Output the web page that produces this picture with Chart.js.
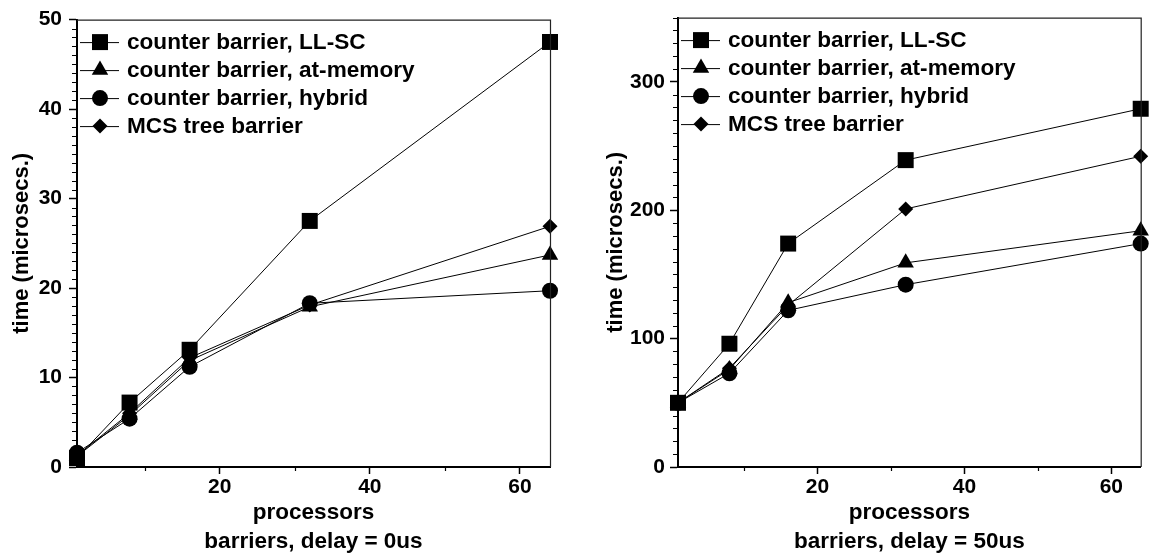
<!DOCTYPE html>
<html><head><meta charset="utf-8">
<script src="https://cdn.jsdelivr.net/npm/chart.js@4.4.1/dist/chart.umd.min.js"></script>
<style>
html,body{margin:0;padding:0;background:#fff;}
#wrap{position:relative;width:1152px;height:558px;overflow:hidden;}
.c{position:absolute;top:0;width:576px;height:558px;}
canvas{display:block;}
</style></head><body>
<div id="wrap">
<div class="c" style="left:0"><canvas id="c0" width="576" height="558"></canvas></div>
<div class="c" style="left:576px"><canvas id="c1" width="576" height="558"></canvas></div>
</div>
<script>
// ---- data ----
const processors = [1, 8, 16, 32, 64];
const seriesNames = ['counter barrier, LL-SC', 'counter barrier, at-memory', 'counter barrier, hybrid', 'MCS tree barrier'];

const delay0_llsc   = [1.0, 7.2, 13.1, 27.5, 47.5];
const delay0_atmem  = [1.2, 5.8, 11.9, 17.9, 23.7];
const delay0_hybrid = [1.6, 5.4, 11.2, 18.3, 19.7];
const delay0_mcs    = [1.3, 6.0, 12.2, 18.1, 26.9];

const delay50_llsc   = [50, 96, 174, 239, 279];
const delay50_atmem  = [50, 76, 128, 159, 184];
const delay50_hybrid = [50, 73, 122, 142, 174];
const delay50_mcs    = [50, 77, 126, 201, 242];

const xMajorTicks = [20, 40, 60];
const xMinorTicks = [10, 30, 50];
const yMajorTicks0 = [0, 10, 20, 30, 40, 50];
const yMajorTicks50 = [0, 100, 200, 300];
const xTitle0 = ['processors', 'barriers, delay = 0us'];
const xTitle50 = ['processors', 'barriers, delay = 50us'];
const yTitle = 'time (microsecs.)';

// ---- styling ----
const FONT = '"Liberation Sans", Arial, Helvetica, sans-serif';
const pointStyles = ['rect', 'triangle', 'circle', 'rectRot'];
const pointRadii = [11.3, 9.5, 8, 7.5];

function drawMarker(ctx, style, r, x, y) {
  ctx.save();
  ctx.fillStyle = '#000';
  ctx.beginPath();
  if (style === 'rect') {
    const s = r * Math.SQRT1_2;
    ctx.rect(x - s, y - s, 2 * s, 2 * s);
  } else if (style === 'triangle') {
    const T = 2 * Math.PI / 3;
    let rad = 0;
    ctx.moveTo(x + Math.sin(rad) * r, y - Math.cos(rad) * r);
    rad += T; ctx.lineTo(x + Math.sin(rad) * r, y - Math.cos(rad) * r);
    rad += T; ctx.lineTo(x + Math.sin(rad) * r, y - Math.cos(rad) * r);
    ctx.closePath();
  } else if (style === 'circle') {
    ctx.arc(x, y, r, 0, Math.PI * 2);
  } else {
    ctx.moveTo(x - r, y); ctx.lineTo(x, y - r); ctx.lineTo(x + r, y); ctx.lineTo(x, y + r);
    ctx.closePath();
  }
  ctx.fill();
  ctx.restore();
}

const extrasPlugin = {
  id: 'extras',
  afterDraw(chart, args, opts) {
    const ctx = chart.ctx;
    const a = chart.chartArea;
    ctx.save();
    // box top/right
    ctx.strokeStyle = '#222';
    ctx.lineWidth = 1.2;
    ctx.beginPath();
    ctx.moveTo(a.left, a.top + 0.5); ctx.lineTo(a.right + 0.5, a.top + 0.5); ctx.lineTo(a.right + 0.5, a.bottom);
    ctx.stroke();
    // minor ticks
    ctx.strokeStyle = '#000';
    ctx.lineWidth = 1.2;
    const ys = chart.scales.y, xs = chart.scales.x;
    ctx.beginPath();
    for (let v = ys.min; v <= ys.max + 1e-9; v += opts.yMinorStep) {
      if (opts.yMajor.includes(v)) continue;
      const p = Math.round(ys.getPixelForValue(v)) + 0.5;
      ctx.moveTo(a.left - 5, p); ctx.lineTo(a.left, p);
    }
    for (const v of xMinorTicks) {
      const p = Math.round(xs.getPixelForValue(v)) + 0.5;
      ctx.moveTo(p, a.bottom); ctx.lineTo(p, a.bottom + 4);
    }
    ctx.stroke();
    // legend
    chart.data.datasets.forEach((ds, i) => {
      const y = a.top + 22.5 + i * 28;
      ctx.strokeStyle = '#000';
      ctx.lineWidth = 1;
      ctx.beginPath();
      ctx.moveTo(a.left + 3, y + 0.5); ctx.lineTo(a.left + 42, y + 0.5);
      ctx.stroke();
      drawMarker(ctx, ds.pointStyle, ds.pointRadius, a.left + 23, y);
      ctx.fillStyle = '#000';
      ctx.font = 'bold 22.6px ' + FONT;
      ctx.textBaseline = 'middle';
      ctx.textAlign = 'left';
      ctx.fillText(ds.label, a.left + 50, y + 1);
    });
    ctx.restore();
  }
};

function makeChart(id, series, yMax, yMajor, yMinorStep, xTitle, pad, yWidth, yTitlePad, yLabelPad) {
  const datasets = series.map((vals, i) => ({
    label: seriesNames[i],
    data: processors.map((x, j) => ({ x: x, y: vals[j] })),
    borderColor: '#000',
    backgroundColor: '#000',
    borderWidth: 1,
    pointStyle: pointStyles[i],
    pointRadius: pointRadii[i],
    pointHoverRadius: pointRadii[i],
    pointBackgroundColor: '#000',
    pointBorderColor: '#000',
    pointBorderWidth: 0,
    tension: 0,
    fill: false,
    clip: false
  }));
  return new Chart(document.getElementById(id), {
    type: 'line',
    data: { datasets: datasets },
    plugins: [extrasPlugin],
    options: {
      responsive: false,
      animation: false,
      devicePixelRatio: 1,
      layout: { padding: pad },
      plugins: {
        legend: { display: false },
        tooltip: { enabled: false },
        extras: { yMinorStep: yMinorStep, yMajor: yMajor }
      },
      scales: {
        x: {
          type: 'linear', min: 1, max: 64,
          afterBuildTicks: s => { s.ticks = xMajorTicks.map(v => ({ value: v })); },
          afterFit: s => { s.height = 91; },
          grid: { display: true, drawOnChartArea: false, drawTicks: true, tickLength: 7, tickColor: '#000', tickWidth: 1.5, color: '#000' },
          border: { display: true, color: '#000', width: 2 },
          ticks: { color: '#000', font: { family: FONT, size: 21, weight: 'bold' }, padding: 1, maxRotation: 0, autoSkip: false },
          title: { display: true, text: xTitle, color: '#000', font: { family: FONT, size: 22.5, weight: 'bold', lineHeight: 1.29 }, padding: { top: 0, bottom: 1.5 } }
        },
        y: {
          type: 'linear', min: 0, max: yMax,
          afterBuildTicks: s => { s.ticks = yMajor.map(v => ({ value: v })); },
          afterFit: s => { s.width = yWidth; },
          grid: { display: true, drawOnChartArea: false, drawTicks: true, tickLength: 8, tickColor: '#000', tickWidth: 1.5, color: '#000' },
          border: { display: true, color: '#000', width: 2 },
          ticks: { color: '#000', font: { family: FONT, size: 21, weight: 'bold' }, padding: yLabelPad, autoSkip: false },
          title: { display: true, text: yTitle, color: '#000', font: { family: FONT, size: 22, weight: 'bold', lineHeight: 1.2 }, padding: { top: yTitlePad, bottom: 0 } }
        }
      }
    }
  });
}

makeChart('c0', [delay0_llsc, delay0_atmem, delay0_hybrid, delay0_mcs], 50, yMajorTicks0, 1, xTitle0,
  { left: 0, right: 26, top: 18, bottom: 0 }, 77, 9, 7);
makeChart('c1', [delay50_llsc, delay50_atmem, delay50_hybrid, delay50_mcs], 350, yMajorTicks50, 10, xTitle50,
  { left: 0, right: 10, top: 13, bottom: 0 }, 102, 27, 5);
</script>
</body></html>
